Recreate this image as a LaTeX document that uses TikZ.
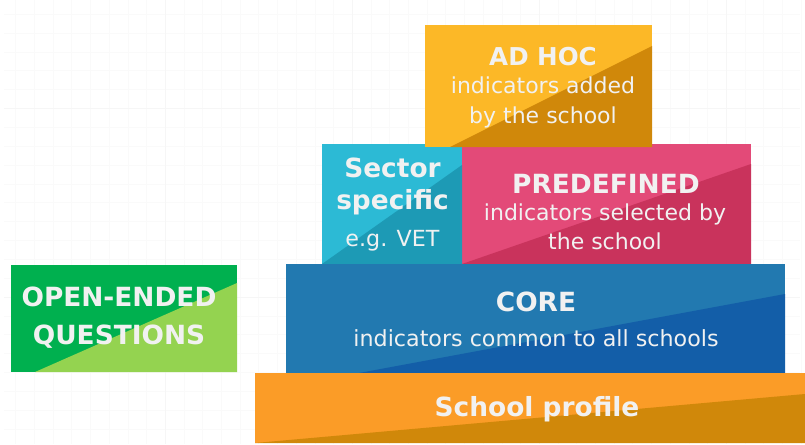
\documentclass[tikz,border=0pt]{standalone}
\usepackage{fontspec}
\setmainfont{DejaVu Sans}
\definecolor{txt}{HTML}{F1F1F1}
\definecolor{gridc}{HTML}{FAFAFA}
\definecolor{gridd}{HTML}{F6F6F6}
\definecolor{ahA}{HTML}{FCB827}\definecolor{ahB}{HTML}{D0880A}
\definecolor{seA}{HTML}{2CBAD5}\definecolor{seB}{HTML}{1D9AB5}
\definecolor{prA}{HTML}{E34A78}\definecolor{prB}{HTML}{C9335C}
\definecolor{coA}{HTML}{2279B0}\definecolor{coB}{HTML}{135EA8}
\definecolor{scA}{HTML}{FB9C27}\definecolor{scB}{HTML}{D0880A}
\definecolor{opA}{HTML}{00B04F}\definecolor{opB}{HTML}{94D350}
\tikzset{
  x=1pt,y=-1pt,
  lbl/.style={text=txt,align=center,inner sep=0pt,font=\fontsize{22.2}{29}\selectfont},
  big/.style={font=\bfseries\fontsize{26.4}{32}\selectfont},
  gridline/.style={gridc,line width=0.8pt},
  gridbold/.style={gridd,line width=1pt}
}
\begin{document}
\begin{tikzpicture}
\useasboundingbox (0,0) rectangle (805,444);
\fill[white] (0,0) rectangle (805,444);
% faint background grid
\foreach \i in {0,...,42}{\draw[gridline] ({15.7+18.7*\i},0) -- ({15.7+18.7*\i},444);}
\foreach \i in {0,...,23}{\draw[gridline] (4,{14.3+18.85*\i}) -- (800,{14.3+18.85*\i});}
\foreach \i in {8,18,28,38}{\draw[gridbold] ({15.7+18.7*\i},0) -- ({15.7+18.7*\i},444);}
\foreach \i in {5,15}{\draw[gridbold] (4,{14.3+18.85*\i}) -- (800,{14.3+18.85*\i});}
% predefined
\fill[prA] (462,144) rectangle (751,264);
\fill[prB] (751,164) -- (751,264) -- (462,264) -- cycle;
% sector
\fill[seA] (322,144) rectangle (462,264);
\fill[seB] (462,165) -- (462,264) -- (322,264) -- cycle;
% ad hoc
\fill[ahA] (425,25) rectangle (652,147);
\fill[ahB] (652,46) -- (652,147) -- (450,147) -- cycle;
% core
\fill[coA] (286,264) rectangle (785,373);
\fill[coB] (785,294) -- (785,373) -- (359,373) -- cycle;
% school profile
\fill[scA] (255,373) rectangle (805,443);
\fill[scB] (805,394) -- (805,443) -- (255,443) -- cycle;
% open-ended
\fill[opA] (11,265) rectangle (237,372);
\fill[opB] (237,283) -- (237,372) -- (35,372) -- cycle;
% texts
\node[lbl,font=\bfseries\fontsize{24.6}{32}\selectfont] (tadhoc) at (543,57) {AD HOC};
\node[lbl,font=\fontsize{22}{30}\selectfont] (tadhocs) at (543,102.5) {indicators added\\by the school};
\node[lbl,big] (tsector) at (392.5,186) {Sector\\specific};
\node[lbl] (tsectors) at (392.5,240.5) {e.g. VET};
\node[lbl,big] (tpre) at (606,183.5) {PREDEFINED};
\node[lbl,font=\fontsize{22}{28.5}\selectfont] (tpres) at (605,227) {indicators selected by\\the school};
\node[lbl,big] (tcore) at (536,302) {CORE};
\node[lbl] (tcores) at (536,338) {indicators common to all schools};
\node[lbl,big] (tschool) at (537,409.5) {School profile};
\node[lbl,font=\bfseries\fontsize{26.4}{38}\selectfont] (topen) at (119,318) {OPEN-ENDED\\QUESTIONS};
\end{tikzpicture}
\end{document}
